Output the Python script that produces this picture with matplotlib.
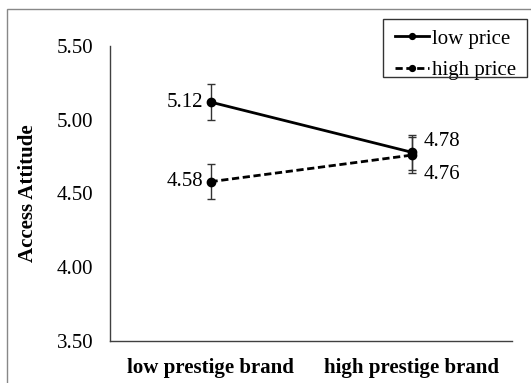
import matplotlib.pyplot as plt
from matplotlib.patches import Rectangle

# category labels and cell means
brands = ['low prestige brand', 'high prestige brand']
low_price = [5.12, 4.78]
high_price = [4.58, 4.76]
low_err = [0.12, 0.12]
high_err = [0.12, 0.12]
yticks = [3.50, 4.00, 4.50, 5.00, 5.50]

plt.rcParams['font.family'] = 'Liberation Serif'

W, H = 531, 383
fig = plt.figure(figsize=(W / 100, H / 100), dpi=100)
ax = fig.add_axes([110 / W, 1 - 341 / H, 402 / W, 295 / H])

x = [0, 1]
ax.errorbar(x, low_price, yerr=low_err, fmt='none', ecolor='#333333',
            elinewidth=1, capsize=3, capthick=1, zorder=2)
ax.errorbar(x, high_price, yerr=high_err, fmt='none', ecolor='#333333',
            elinewidth=1, capsize=3, capthick=1, zorder=2)
ax.plot(x, low_price, '-', color='black', lw=2, marker='o', ms=6,
        label='low price', zorder=3)
ax.plot(x, high_price, '--', color='black', lw=2, marker='o', ms=6,
        dashes=(2.6, 1.3), label='high price', zorder=3)

# value labels
fs = 15
ax.annotate(f'{low_price[0]:.2f}', (x[0], low_price[0]), xytext=(-5, 0),
            textcoords='offset points', ha='right', va='center', fontsize=fs)
ax.annotate(f'{high_price[0]:.2f}', (x[0], high_price[0]), xytext=(-5, 0),
            textcoords='offset points', ha='right', va='center', fontsize=fs)
ax.annotate(f'{low_price[1]:.2f}', (x[1], low_price[1]), xytext=(8.5, 7.5),
            textcoords='offset points', ha='left', va='center', fontsize=fs)
ax.annotate(f'{high_price[1]:.2f}', (x[1], high_price[1]), xytext=(8.5, -14),
            textcoords='offset points', ha='left', va='center', fontsize=fs)

ax.set_xlim(-0.5, 1.5)
ax.set_ylim(3.5, 5.5)
ax.set_yticks(yticks)
ax.set_yticklabels([f'{v:.2f}' for v in yticks], fontsize=fs)
ax.set_xticks(x)
ax.set_xticklabels(brands, fontsize=fs, fontweight='bold')
ax.tick_params(length=0)
ax.tick_params(axis='x', pad=12)
ax.tick_params(axis='y', pad=12)
ax.set_ylabel('Access Attitude', fontsize=fs, fontweight='bold')
ax.yaxis.set_label_coords(-0.18, 0.5)

for s in ['top', 'right']:
    ax.spines[s].set_visible(False)
for s in ['left', 'bottom']:
    ax.spines[s].set_color('#404040')
    ax.spines[s].set_linewidth(1)

# legend entries without frame, frame drawn separately
leg = ax.legend(loc='upper left', bbox_to_anchor=(391 / W, 1 - 25 / H),
                bbox_transform=fig.transFigure, fontsize=fs, frameon=False,
                handlelength=1.6, handletextpad=0.15, borderpad=0.2,
                labelspacing=0.55, markerscale=0.7, borderaxespad=0)
fig.patches.append(Rectangle((383 / W, 1 - 77 / H), 144 / W, 58 / H,
                             transform=fig.transFigure, fill=False,
                             edgecolor='#333333', lw=1))

# outer chart border
fig.patches.append(Rectangle((7 / W, -0.05), 1.1, 1 - 9 / H + 0.05,
                             transform=fig.transFigure, fill=False,
                             edgecolor='#888888', lw=1))

fig.savefig('out.png', dpi=100)
